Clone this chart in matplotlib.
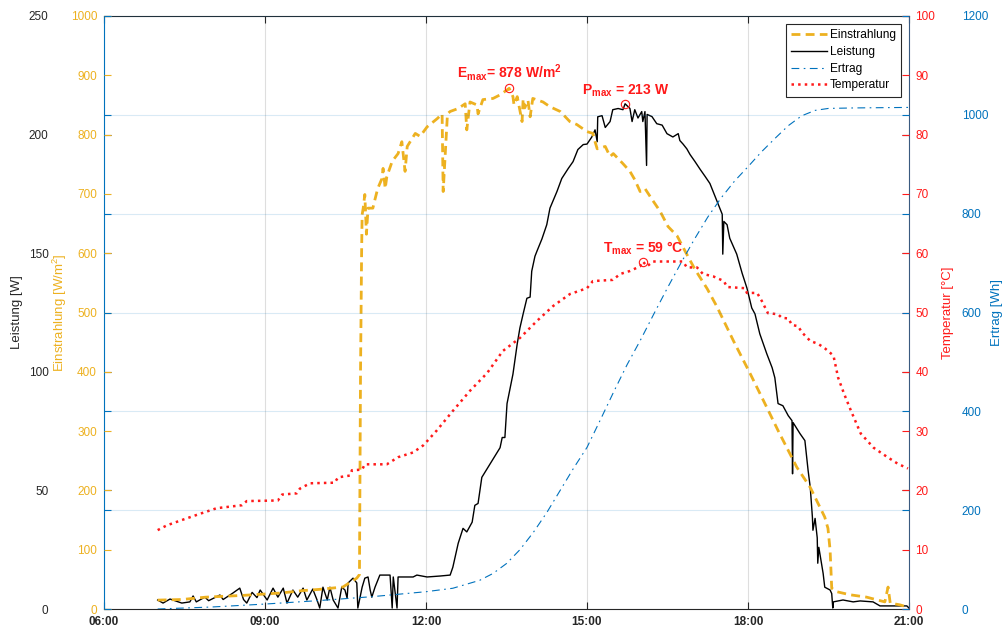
import numpy as np
import matplotlib.pyplot as plt

plt.rcParams["font.family"] = ["Liberation Sans", "DejaVu Sans"]
plt.rcParams["mathtext.fontset"] = "custom"
plt.rcParams["mathtext.rm"] = "Liberation Sans:bold"
plt.rcParams["mathtext.bf"] = "Liberation Sans:bold"
plt.rcParams["mathtext.default"] = "bf"

# -------------------------
# Daten (Uhrzeit in Stunden)
# -------------------------
t_leistung = [7.00, 7.10, 7.23, 7.45, 7.60, 7.66, 7.72, 7.88, 7.95, 8.16,
              8.22, 8.40, 8.53, 8.60, 8.66, 8.76, 8.85, 8.91, 9.04, 9.15,
              9.24, 9.34, 9.41, 9.52, 9.61, 9.71, 9.78, 9.89, 9.97, 10.02,
              10.08, 10.16, 10.21, 10.27, 10.36, 10.43, 10.49, 10.53, 10.55, 10.64,
              10.71, 10.73, 10.81, 10.86, 10.92, 10.96, 10.99, 11.05, 11.14, 11.33,
              11.37, 11.39, 11.46, 11.48, 11.76, 11.83, 12.02, 12.26, 12.45, 12.50,
              12.60, 12.69, 12.76, 12.86, 12.91, 12.97, 13.04, 13.14, 13.23, 13.38,
              13.42, 13.47, 13.51, 13.57, 13.62, 13.70, 13.75, 13.81, 13.88, 13.94,
              13.97, 14.03, 14.07, 14.16, 14.25, 14.31, 14.44, 14.53, 14.65, 14.74,
              14.83, 14.93, 15.00, 15.09, 15.13, 15.15, 15.19, 15.20, 15.28, 15.34,
              15.43, 15.48, 15.58, 15.67, 15.71, 15.80, 15.84, 15.89, 15.95, 16.02,
              16.04, 16.08, 16.11, 16.12, 16.21, 16.30, 16.40, 16.49, 16.60, 16.70,
              16.73, 16.79, 16.86, 16.92, 17.01, 17.11, 17.20, 17.29, 17.35, 17.44,
              17.52, 17.53, 17.55, 17.61, 17.66, 17.79, 17.89, 17.98, 18.07, 18.13,
              18.22, 18.35, 18.45, 18.50, 18.56, 18.65, 18.75, 18.82, 18.83, 18.84,
              18.97, 19.06, 19.12, 19.16, 19.20, 19.21, 19.25, 19.29, 19.30, 19.32,
              19.38, 19.40, 19.43, 19.53, 19.56, 19.58, 19.59, 19.77, 19.96, 20.09,
              20.33, 20.46, 20.96, 21.00]
leistung = [3.8, 2.5, 4.2, 2.5, 3.0, 5.5, 3.0, 5.0, 3.5, 5.9,
            4.0, 6.7, 8.8, 4.0, 2.5, 7.0, 4.8, 8.0, 3.8, 8.8,
            5.0, 8.8, 2.5, 8.0, 5.0, 8.8, 3.8, 8.4, 3.8, 0.4,
            9.2, 3.8, 9.2, 3.8, 0.4, 9.2, 8.0, 4.6, 11.0, 13.0,
            11.0, 0.4, 9.2, 13.0, 13.5, 8.0, 5.0, 9.2, 14.3, 14.3,
            0.4, 13.5, 0.4, 13.5, 13.5, 14.3, 13.5, 13.9, 14.3, 17.6,
            27.7, 34.0, 32.5, 36.6, 43.7, 44.5, 55.5, 59.2, 62.6, 68.0,
            72.3, 72.3, 86.6, 93.3, 99.0, 111.8, 118.5, 124.4, 131.0, 131.5,
            142.4, 148.7, 151.0, 156.0, 162.0, 169.0, 176.0, 181.5, 185.7, 188.6,
            193.7, 195.8, 196.0, 199.0, 201.0, 202.0, 197.0, 207.5, 208.0, 203.0,
            205.5, 210.5, 211.0, 210.5, 213.0, 211.0, 205.5, 210.5, 207.0, 209.7,
            205.5, 209.7, 187.0, 208.5, 207.6, 204.6, 204.0, 200.4, 199.0, 200.4,
            197.5, 196.0, 194.0, 191.6, 188.7, 185.3, 182.4, 179.4, 176.0, 171.0,
            166.4, 149.6, 163.4, 162.0, 156.3, 149.6, 141.6, 135.3, 126.9, 124.4,
            116.0, 107.6, 101.7, 97.5, 86.6, 85.7, 81.5, 79.4, 57.0, 78.6,
            73.9, 71.0, 58.4, 51.3, 38.7, 33.2, 38.2, 30.0, 19.3, 26.0,
            17.6, 15.0, 9.2, 8.0, 6.5, 0.4, 3.0, 3.8, 3.0, 3.4,
            3.0, 1.3, 1.3, 0.4]

t_einstr = [7.00, 7.45, 7.90, 8.60, 9.30, 9.70, 10.00, 10.45, 10.71, 10.76,
            10.78, 10.80, 10.81, 10.83, 10.86, 10.89, 10.92, 11.01, 11.05, 11.10,
            11.18, 11.20, 11.24, 11.27, 11.37, 11.48, 11.55, 11.61, 11.65, 11.80,
            11.89, 12.02, 12.21, 12.30, 12.32, 12.40, 12.45, 12.60, 12.73, 12.76,
            12.82, 12.95, 12.97, 13.06, 13.25, 13.38, 13.55, 13.62, 13.64, 13.70,
            13.79, 13.81, 13.84, 13.90, 13.94, 13.99, 14.18, 14.31, 14.50, 14.68,
            14.81, 15.00, 15.11, 15.15, 15.19, 15.34, 15.43, 15.49, 15.67, 15.80,
            15.89, 15.99, 16.08, 16.21, 16.36, 16.51, 16.68, 16.86, 17.01, 17.24,
            17.42, 17.73, 18.04, 18.35, 18.56, 18.91, 19.16, 19.43, 19.49, 19.53,
            19.56, 19.66, 19.90, 20.21, 20.42, 20.55, 20.61, 20.65, 20.83, 20.98]
einstrahlung = [15, 16, 20, 23, 27, 31, 33, 37, 52, 58,
                400, 600, 665, 676, 699, 632, 676, 676, 691, 709,
                726, 743, 709, 729, 755, 768, 788, 738, 780, 802,
                797, 813, 827, 835, 704, 835, 839, 844, 852, 808,
                855, 850, 835, 859, 861, 867, 878, 864, 850, 864,
                822, 860, 845, 858, 830, 861, 855, 847, 839, 822,
                817, 805, 802, 788, 776, 780, 763, 768, 751, 738,
                724, 704, 709, 691, 671, 645, 629, 598, 573, 540,
                510, 452, 397, 340, 301, 239, 205, 155, 136, 99,
                35, 29, 24, 20, 15, 12, 37, 10, 7, 3]

t_temp = [7.00, 7.17, 7.45, 7.77, 8.10, 8.57, 8.66, 9.24, 9.32, 9.59,
          9.65, 9.84, 10.30, 10.36, 10.58, 10.62, 10.81, 10.86, 11.27, 11.48,
          11.76, 11.95, 12.20, 12.50, 12.82, 13.14, 13.43, 13.75, 14.07, 14.37,
          14.68, 15.00, 15.11, 15.48, 15.62, 15.80, 15.99, 16.04, 16.12, 16.23,
          16.79, 16.86, 17.05, 17.16, 17.35, 17.55, 17.61, 17.94, 17.98, 18.17,
          18.26, 18.37, 18.56, 18.63, 18.75, 18.82, 18.93, 19.01, 19.16, 19.31,
          19.44, 19.57, 19.60, 19.68, 19.79, 19.92, 20.10, 20.34, 20.60, 20.79,
          20.98]
temperatur = [13.3, 14.1, 15.0, 16.0, 17.0, 17.5, 18.2, 18.3, 19.3, 19.5,
              20.3, 21.2, 21.3, 22.2, 22.5, 23.4, 23.5, 24.4, 24.4, 25.6,
              26.4, 27.6, 30.1, 33.4, 36.8, 39.8, 43.5, 45.7, 48.6, 51.1,
              53.1, 54.1, 55.3, 55.5, 56.5, 57.0, 57.8, 58.6, 57.8, 58.6,
              58.6, 57.6, 57.6, 56.5, 56.1, 55.3, 54.3, 54.1, 53.3, 53.3,
              51.9, 49.9, 49.7, 49.1, 49.0, 47.9, 47.7, 46.6, 45.2, 44.7,
              43.9, 42.9, 42.4, 39.0, 36.3, 33.4, 29.6, 27.2, 25.6, 24.5,
              23.7]

t_ertrag = [7.0, 8.0, 9.0, 10.0, 11.0, 12.0, 12.5, 13.0, 13.25, 13.5,
            13.75, 14.0, 14.25, 14.5, 14.75, 15.0, 15.25, 15.5, 15.75, 16.0,
            16.25, 16.5, 16.75, 17.0, 17.25, 17.5, 17.75, 18.0, 18.25, 18.5,
            18.75, 19.0, 19.25, 19.5, 20.0, 21.0]
ertrag = [0, 4, 10, 17, 25, 35, 42, 58, 72, 92,
          120, 155, 195, 240, 285, 327, 383, 440, 495, 545,
          598, 650, 700, 748, 793, 832, 866, 895, 925, 952,
          978, 998, 1009, 1013, 1014, 1015]

x_ticks = [6, 9, 12, 15, 18, 21]
x_ticklabels = ["06:00", "09:00", "12:00", "15:00", "18:00", "21:00"]

c_orange = "#EDB120"
c_blue = "#0072BD"
c_red = "#FF1A1A"
c_dark = "#262626"

# -------------------------
# Achsen
# -------------------------
fig = plt.figure(figsize=(10.04, 6.3), dpi=100)
ax = fig.add_axes([104 / 1004, 21 / 630, 805 / 1004, 593 / 630])
axE = ax.twinx()
axT = ax.twinx()
axW = ax.twinx()

l_p, = ax.plot(t_leistung, leistung, color="black", lw=1.0, label="Leistung")
l_e, = axE.plot(t_einstr, einstrahlung, color=c_orange, lw=2.0,
                linestyle=(0, (3.2, 1.9)), label="Einstrahlung")
l_t, = axT.plot(t_temp, temperatur, color=c_red, lw=1.8, linestyle=":", label="Temperatur")
l_w, = axW.plot(t_ertrag, ertrag, color=c_blue, lw=0.8,
                linestyle=(0, (7, 4, 1.5, 4)), label="Ertrag")

ax.set_xlim(6, 21)
ax.set_ylim(0, 250)
axE.set_ylim(0, 1000)
axT.set_ylim(0, 100)
axW.set_ylim(0, 1200)
ax.set_yticks(np.arange(0, 251, 50))
axE.set_yticks(np.arange(0, 1001, 100))
axT.set_yticks(np.arange(0, 101, 10))
axW.set_yticks(np.arange(0, 1201, 200))
ax.set_xticks(x_ticks, x_ticklabels, fontweight="bold")

# tick styling
ax.tick_params(axis="x", direction="in", top=True, bottom=True, length=5,
               labelsize=8.5, colors=c_dark, pad=5)
ax.tick_params(axis="y", direction="in", left=True, right=True, labelleft=True,
               labelright=False, length=5, labelsize=8.5, colors=c_dark, pad=40)
axE.yaxis.tick_left()
axE.yaxis.set_label_position("left")
axE.tick_params(axis="y", direction="in", left=True, right=False, length=5,
                labelsize=8.5, colors=c_orange, pad=5)
axT.tick_params(axis="y", direction="in", right=True, left=False, length=5,
                labelsize=8.5, colors=c_red, pad=4.5)
axW.tick_params(axis="y", direction="in", left=True, right=True, labelleft=False,
                labelright=True, length=5, labelsize=8.5, colors=c_blue, pad=38)

for a in (axE, axT, axW):
    for s in a.spines.values():
        s.set_visible(False)
ax.spines["left"].set_color(c_blue)
ax.spines["right"].set_color("#3A5A80")
ax.spines["top"].set_color(c_dark)
ax.spines["bottom"].set_color(c_dark)

# grid
ax.xaxis.grid(True, color=c_dark, alpha=0.15, lw=0.8)
axW.yaxis.grid(True, color=c_blue, alpha=0.15, lw=0.8)

# labels
ax.set_ylabel("Leistung [W]", fontsize=9.5, color=c_dark, ha="center", va="center")
ax.yaxis.set_label_coords(-0.1075, 0.5)
axE.set_ylabel(r"Einstrahlung [W/m$^\mathregular{2}$]", fontsize=9.5, color=c_orange,
               ha="center", va="center")
axE.yaxis.set_label_coords(-0.0547, 0.5)
axT.set_ylabel("Temperatur [°C]", fontsize=9.5, color=c_red, rotation=90,
               ha="center", va="center")
axT.yaxis.set_label_coords(1.0485, 0.5)
axW.set_ylabel("Ertrag [Wh]", fontsize=9.5, color=c_blue, rotation=90,
               ha="center", va="center")
axW.yaxis.set_label_coords(1.109, 0.5)

# Maxima markieren
def mark_max(a, t, y, fmt):
    i = int(np.argmax(y))
    a.plot(t[i], y[i], "o", mfc="none", mec=c_red, ms=6, mew=0.8)
    a.annotate(fmt.format(y[i]), (t[i], y[i]), xytext=(0, 3.5), textcoords="offset points",
               ha="center", va="bottom", color=c_red, fontsize=10, fontweight="bold")

mark_max(axE, t_einstr, einstrahlung, "E$_{{max}}$= {:.0f} W/m$^{{2}}$")
mark_max(ax, t_leistung, leistung, "P$_{{max}}$ = {:.0f} W")
mark_max(axT, t_temp, temperatur, "T$_{{max}}$ = {:.0f} °C")

leg = axW.legend(handles=[l_e, l_p, l_w, l_t], loc="upper right", fontsize=8.6,
                 frameon=True, fancybox=False, framealpha=1, edgecolor=c_dark,
                 handlelength=3.0, handletextpad=0.25, labelspacing=0.4,
                 borderpad=0.45, borderaxespad=0.65)
leg.get_frame().set_linewidth(0.8)

fig.savefig("out.png", dpi=100)
